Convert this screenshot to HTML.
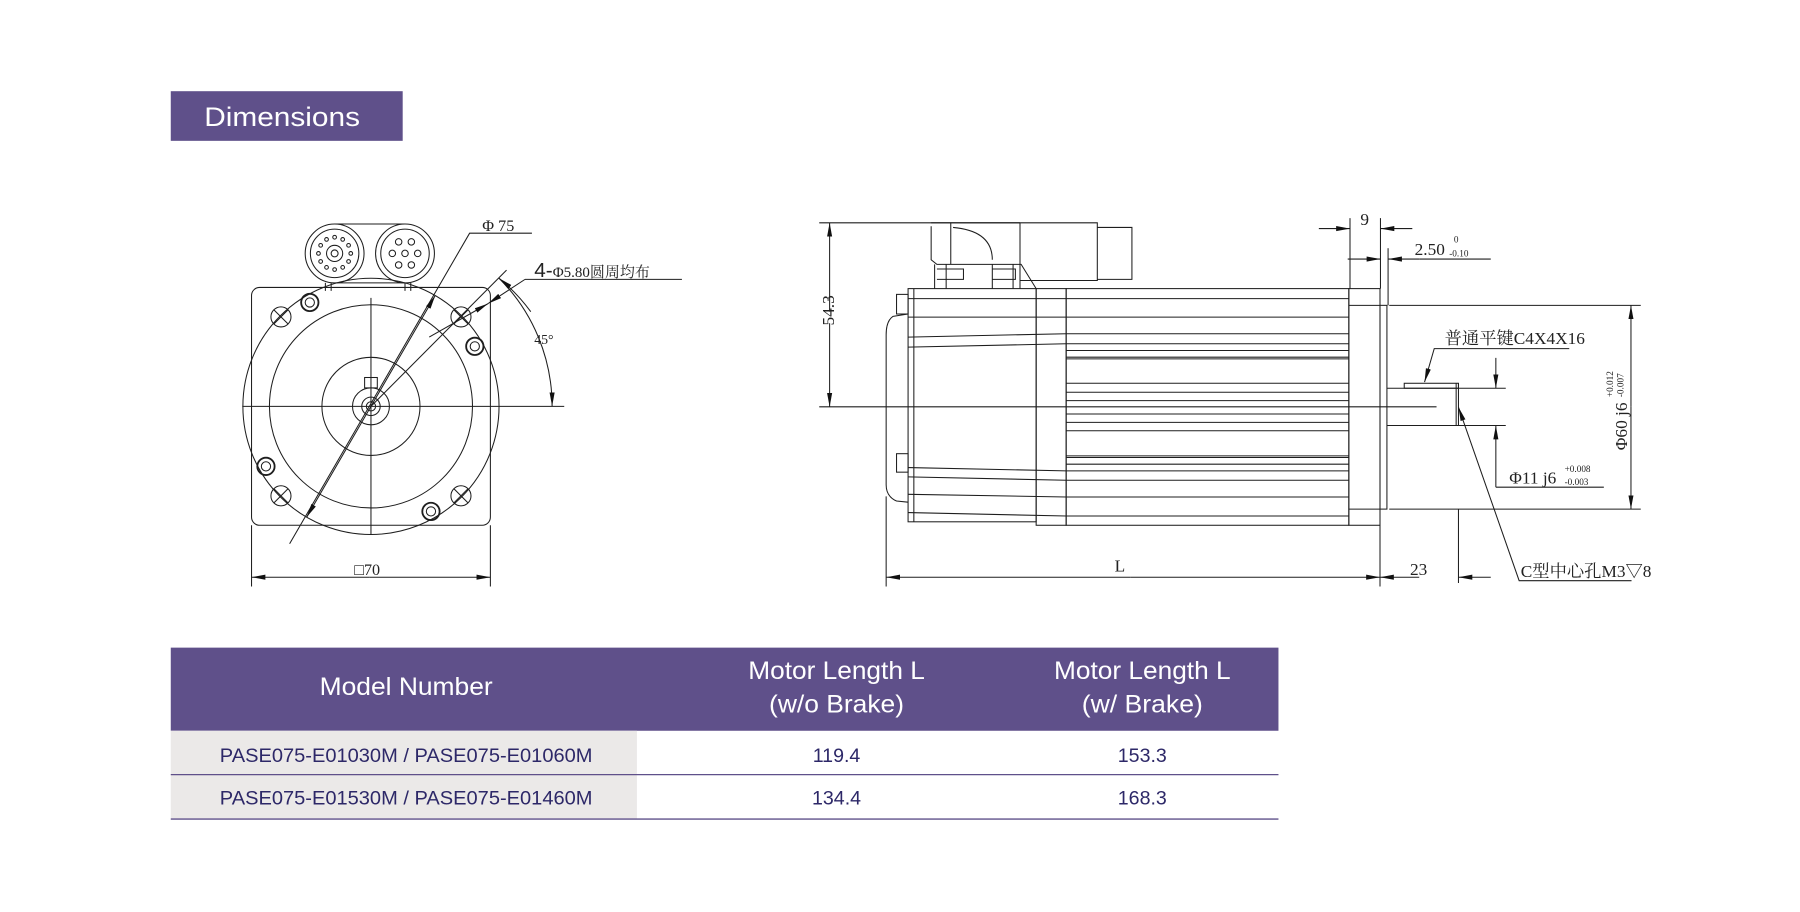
<!DOCTYPE html>
<html><head><meta charset="utf-8"><style>
html,body{margin:0;padding:0;background:#fff;}
svg{display:block;}
.s{fill:none;stroke:#1e1e1e;stroke-width:0.9;}
.t{font-family:"Liberation Serif","Noto Serif CJK SC","Noto Sans CJK SC",serif;fill:#222;}
.h{font-family:"Liberation Sans",sans-serif;fill:#fff;}
.r{font-family:"Liberation Sans",sans-serif;fill:#2d2868;}
</style></head><body>
<svg width="1800" height="912" viewBox="0 0 1560 790" preserveAspectRatio="none" xmlns="http://www.w3.org/2000/svg">
<defs>
<marker id="a" viewBox="0 0 12 6" refX="12" refY="3" markerWidth="12" markerHeight="6" orient="auto" markerUnits="userSpaceOnUse"><path d="M0,0.8 L12,3 L0,5.2 z" fill="#111"/></marker>
</defs>
<!-- header -->
<rect x="148" y="79" width="201" height="43" fill="#5f508a"/>
<text x="177" y="109" class="h" font-size="23" textLength="135" lengthAdjust="spacingAndGlyphs">Dimensions</text>

<!-- FRONT VIEW -->
<g class="s">
<path d="M290,194 L351,194 M290,245 L351,245"/>
<circle cx="290" cy="219.5" r="25.5" fill="#fff"/>
<circle cx="290" cy="219.5" r="21"/>
<circle cx="290" cy="219.5" r="7"/>
<circle cx="290" cy="219.5" r="3"/>
<g>
<circle cx="304" cy="219.5" r="1.6"/><circle cx="276" cy="219.5" r="1.6"/><circle cx="290" cy="205.5" r="1.6"/><circle cx="290" cy="233.5" r="1.6"/>
<circle cx="302.1" cy="212.5" r="1.6"/><circle cx="277.9" cy="212.5" r="1.6"/><circle cx="302.1" cy="226.5" r="1.6"/><circle cx="277.9" cy="226.5" r="1.6"/>
<circle cx="297" cy="207.4" r="1.6"/><circle cx="283" cy="207.4" r="1.6"/><circle cx="297" cy="231.6" r="1.6"/><circle cx="283" cy="231.6" r="1.6"/>
</g>
<circle cx="351" cy="219.5" r="25.5" fill="#fff"/>
<circle cx="351" cy="219.5" r="21"/>
<g>
<circle cx="351" cy="219.5" r="2.8"/><circle cx="340" cy="219.5" r="2.8"/><circle cx="362" cy="219.5" r="2.8"/>
<circle cx="345.5" cy="209.5" r="2.8"/><circle cx="356.5" cy="209.5" r="2.8"/><circle cx="345.5" cy="229.5" r="2.8"/><circle cx="356.5" cy="229.5" r="2.8"/>
</g>
<path d="M282,245 L282,252 M287,245 L287,252 M351,245 L351,252 M356,245 L356,252"/>
<rect x="218" y="249" width="207" height="206" rx="7" fill="none"/>
<circle cx="321.5" cy="352" r="111"/>
<circle cx="321.5" cy="352" r="88"/>
<circle cx="321.5" cy="352" r="42.5"/>
<circle cx="321.5" cy="352" r="16"/>
<circle cx="321.5" cy="352" r="8"/>
<circle cx="321.5" cy="352" r="4"/>
<rect x="316" y="327" width="11" height="9"/>
<path d="M210,352 L489,352 M321.5,258 L321.5,463"/>
<g>
<circle cx="243.5" cy="274.5" r="8.7"/><path d="M237.3,268.3 L249.7,280.7 M249.7,268.3 L237.3,280.7"/>
<circle cx="399.5" cy="274.5" r="8.7"/><path d="M393.3,268.3 L405.7,280.7 M405.7,268.3 L393.3,280.7"/>
<circle cx="243.5" cy="429.5" r="8.7"/><path d="M237.3,423.3 L249.7,435.7 M249.7,423.3 L237.3,435.7"/>
<circle cx="399.5" cy="429.5" r="8.7"/><path d="M393.3,423.3 L405.7,435.7 M405.7,423.3 L393.3,435.7"/>
</g>
<circle cx="268.5" cy="262" r="7.5" stroke-width="1.6"/><circle cx="268.5" cy="262" r="4"/>
<circle cx="411.5" cy="300" r="7.5" stroke-width="1.6"/><circle cx="411.5" cy="300" r="4"/>
<circle cx="230.5" cy="404" r="7.5" stroke-width="1.6"/><circle cx="230.5" cy="404" r="4"/>
<circle cx="373.5" cy="443" r="7.5" stroke-width="1.6"/><circle cx="373.5" cy="443" r="4"/>
<path d="M251,471 L407,202 L461,202"/>
<path d="M321.5,352 L377.2,256" marker-end="url(#a)"/>
<path d="M321.5,352 L265.8,448" marker-end="url(#a)"/>
<path d="M321.5,352 L439,234"/>
<path d="M372,292 L423,263" marker-end="url(#a)"/>
<path d="M455,242 L423,263" marker-end="url(#a)"/>
<path d="M455,242 L591,242"/>
<path d="M432.5,241 A157,157 0 0 1 478.5,352" marker-end="url(#a)"/>
<path d="M460,270 A157,157 0 0 0 432.5,241" marker-end="url(#a)"/>
<path d="M218,455 L218,508 M425,455 L425,508"/>
<path d="M320,500 L218,500" marker-end="url(#a)"/>
<path d="M320,500 L425,500" marker-end="url(#a)"/>
</g>
<text x="418" y="200" class="t" font-size="14">Φ 75</text>
<text x="463" y="240" class="t" font-size="13"><tspan font-size="18" font-family="Liberation Sans,sans-serif">4-</tspan>Φ5.80圆周均布</text>
<text x="463" y="298" class="t" font-size="12">45°</text>
<text x="307" y="498" class="t" font-size="14">□70</text>

<!-- SIDE VIEW -->
<g class="s">
<path d="M710,193 L884,193 M710,352.4 L1245,352.4"/>
<path d="M719,270 L719,193" marker-end="url(#a)"/>
<path d="M719,280 L719,352.4" marker-end="url(#a)"/>
<path d="M807,193 L884,193 L884,243 L951,243 L951,193 L884,193 M951,197 L981,197 L981,242 L951,242 M884,243 L884,250" />
<path d="M807,196 L807,225 L812,229 L885,229 L898,250 M824,193 L824,229"/>
<path d="M826,197 Q860,200 860,225"/>
<path d="M810,229 L810,250 M820,229 L820,250 M812,233 L835,233 L835,242 L812,242 M860,233 L880,233 L880,242 L860,242 M878,229 L878,250 M860,229 L860,250"/>
<path d="M787,272 L774,274 Q768,278 768,290 L768,420 Q768,430 777,434 L787,435"/>
<rect x="777" y="255" width="10" height="17"/>
<rect x="777" y="393" width="10" height="16"/>
<rect x="787" y="250" width="111" height="202"/>
<path d="M792,250 L792,452"/>
<rect x="898" y="250" width="26" height="205"/>
<rect x="924" y="250" width="245" height="205"/>
<rect x="1169" y="250" width="27" height="205"/>
<path d="M1169,264.5 L1196,264.5 M1169,441 L1196,441"/>
<path d="M787,258.7 L1169,258.7 M787,274.7 L1169,274.7 M787,292 L924,289.1 L1169,289.1 M787,300.7 L924,297.8 L1169,297.8 M787,405 L924,407.9 L1169,407.9 M787,413.1 L924,416 L1169,416 M787,428.2 L924,430.5 L1169,430.5 M787,444 L924,447 L1169,447"/>
<path d="M924,303.6 L1169,303.6 M924,309.4 L1169,309.4 M924,310.9 L1169,310.9 M924,332 L1169,332 M924,339.8 L1169,339.8 M924,347 L1169,347 M924,358.6 L1169,358.6 M924,365.9 L1169,365.9 M924,373.1 L1169,373.1 M924,394.9 L1169,394.9 M924,396.3 L1169,396.3 M924,402.1 L1169,402.1"/>
<rect x="1196" y="264.5" width="6" height="176.5"/>
<path d="M1202,336.3 L1305,336.3 M1202,368.6 L1305,368.6 M1262,332 L1262,368.6 M1264,332 L1264,368.6"/>
<rect x="1217" y="332" width="47" height="4.3"/>
<path d="M768,430 L768,508 M1196,455 L1196,508 M1264,441 L1264,505"/>
<path d="M980,500 L768,500" marker-end="url(#a)"/>
<path d="M980,500 L1196,500" marker-end="url(#a)"/>
<path d="M1230,500 L1196,500" marker-end="url(#a)"/>
<path d="M1292,500 L1264,500" marker-end="url(#a)"/>
<path d="M1170,189 L1170,250 M1196.4,189 L1196.4,250"/>
<path d="M1143,198 L1170,198" marker-end="url(#a)"/>
<path d="M1224,198 L1196.4,198" marker-end="url(#a)"/>
<path d="M1203,215 L1203,264.5"/>
<path d="M1168,224.4 L1196.4,224.4" marker-end="url(#a)"/>
<path d="M1230,224.4 L1203,224.4" marker-end="url(#a)"/>
<path d="M1230,224.4 L1292,224.4"/>
<path d="M1204,264.5 L1422,264.5 M1204,441 L1422,441"/>
<path d="M1413.5,352 L1413.5,264.5" marker-end="url(#a)"/>
<path d="M1413.5,352 L1413.5,441" marker-end="url(#a)"/>
<path d="M1296.4,310 L1296.4,336.3" marker-end="url(#a)"/>
<path d="M1296.4,422 L1296.4,368.6" marker-end="url(#a)"/>
<path d="M1296.4,422 L1390,422"/>
<path d="M1360,302 L1243,302 L1234.6,331" marker-end="url(#a)"/>
<path d="M1414,503 L1316.6,503 L1264,352.7" marker-end="url(#a)"/>
</g>
<text x="0" y="0" class="t" font-size="15" transform="translate(723,282) rotate(-90)">54.3</text>
<text x="1179" y="195" class="t" font-size="15">9</text>
<text x="1226" y="221" class="t" font-size="15">2.50</text>
<text x="1260" y="210" class="t" font-size="8">0</text>
<text x="1256" y="222" class="t" font-size="8">-0.10</text>
<text x="1252" y="298" class="t" font-size="15">普通平键C4X4X16</text>
<text x="1308" y="419" class="t" font-size="15">Φ11  j6</text>
<text x="1356" y="409" class="t" font-size="8">+0.008</text>
<text x="1356" y="420" class="t" font-size="8">-0.003</text>
<g transform="translate(1410,390) rotate(-90)">
<text x="0" y="0" class="t" font-size="15">Φ60  j6</text>
<text x="46" y="-12" class="t" font-size="8">+0.012</text>
<text x="46" y="-3" class="t" font-size="8">-0.007</text>
</g>
<text x="966" y="495" class="t" font-size="15">L</text>
<text x="1222" y="498" class="t" font-size="15">23</text>
<text x="1318" y="500" class="t" font-size="15">C型中心孔M3▽8</text>

<!-- TABLE -->
<rect x="148" y="561" width="960" height="72" fill="#5f508a"/>
<rect x="148" y="633" width="404" height="76" fill="#ebe9e8"/>
<path d="M148,671 L1108,671 M148,709.5 L1108,709.5" stroke="#5f508a" stroke-width="1.1"/>
<text x="352" y="602" class="h" font-size="22" text-anchor="middle" textLength="150" lengthAdjust="spacingAndGlyphs">Model Number</text>
<text x="725" y="588" class="h" font-size="22" text-anchor="middle" textLength="153" lengthAdjust="spacingAndGlyphs">Motor Length L</text>
<text x="725" y="617" class="h" font-size="22" text-anchor="middle" textLength="117" lengthAdjust="spacingAndGlyphs">(w/o Brake)</text>
<text x="990" y="588" class="h" font-size="22" text-anchor="middle" textLength="153" lengthAdjust="spacingAndGlyphs">Motor Length L</text>
<text x="990" y="617" class="h" font-size="22" text-anchor="middle" textLength="105" lengthAdjust="spacingAndGlyphs">(w/ Brake)</text>
<text x="352" y="660" class="r" font-size="17" text-anchor="middle" textLength="323" lengthAdjust="spacingAndGlyphs">PASE075-E01030M / PASE075-E01060M</text>
<text x="725" y="660" class="r" font-size="17" text-anchor="middle">119.4</text>
<text x="990" y="660" class="r" font-size="17" text-anchor="middle">153.3</text>
<text x="352" y="697" class="r" font-size="17" text-anchor="middle" textLength="323" lengthAdjust="spacingAndGlyphs">PASE075-E01530M / PASE075-E01460M</text>
<text x="725" y="697" class="r" font-size="17" text-anchor="middle">134.4</text>
<text x="990" y="697" class="r" font-size="17" text-anchor="middle">168.3</text>
</svg>
</body></html>
